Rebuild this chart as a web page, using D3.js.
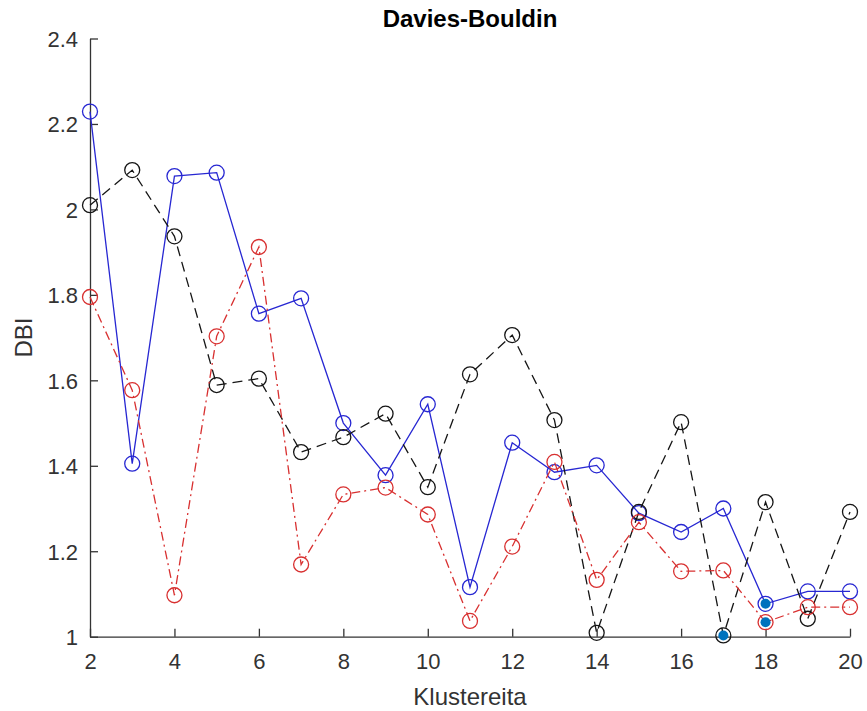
<!DOCTYPE html>
<html>
<head>
<meta charset="utf-8">
<script src="https://cdn.jsdelivr.net/npm/d3@7"></script>
<style>
    body { margin: 0; background: #fff; }
    svg { display: block; font-family: "Liberation Sans", Arial, Helvetica, sans-serif; }
</style>
</head>
<body>
<div id="chart"></div>
<script>
// number of clusters
var clusters = [2, 3, 4, 5, 6, 7, 8, 9, 10, 11, 12, 13, 14, 15, 16, 17, 18, 19, 20];

// DBI per clustering run
var dbiBlue = [2.229, 1.405, 2.078, 2.086, 1.756, 1.792, 1.500, 1.378, 1.544, 1.116,
    1.454, 1.385, 1.401, 1.289, 1.245, 1.300, 1.077, 1.106, 1.106];
var dbiBlack = [2.010, 2.092, 1.937, 1.589, 1.604, 1.432, 1.467, 1.522, 1.350, 1.614,
    1.706, 1.507, 1.009, 1.292, 1.502, 1.003, 1.315, 1.042, 1.292];
var dbiRed = [1.795, 1.577, 1.097, 1.703, 1.912, 1.169, 1.333, 1.349, 1.286, 1.037,
    1.211, 1.409, 1.133, 1.268, 1.153, 1.155, 1.034, 1.069, 1.069];

var xTicks = [2, 4, 6, 8, 10, 12, 14, 16, 18, 20];
var yTicks = [1, 1.2, 1.4, 1.6, 1.8, 2, 2.2, 2.4];

var series = [
    {name: 'blue', values: dbiBlue, color: '#2727d2', dash: null},
    {name: 'black', values: dbiBlack, color: '#151515', dash: '10,6'},
    {name: 'red', values: dbiRed, color: '#d83030', dash: '9,4,2,4'}
];

var width = 867, height = 711;
var margin = {top: 38.5, right: 17, bottom: 74.3, left: 90};
var axisColor = '#333333';

var svg = d3.select('#chart').append('svg')
    .attr('width', width)
    .attr('height', height);

var x = d3.scaleLinear()
    .domain([2, 20])
    .range([margin.left, width - margin.right]);

var y = d3.scaleLinear()
    .domain([1, 2.4])
    .range([height - margin.bottom, margin.top]);

// axes, ticks pointing inward like matlab
var xAxis = svg.append('g')
    .attr('transform', 'translate(0,' + (height - margin.bottom) + ')')
    .call(d3.axisBottom(x).tickValues(xTicks).tickSizeInner(-8).tickSizeOuter(0)
        .tickPadding(17).tickFormat(d3.format('d')));

var yAxis = svg.append('g')
    .attr('transform', 'translate(' + margin.left + ',0)')
    .call(d3.axisLeft(y).tickValues(yTicks).tickSizeInner(-8).tickSizeOuter(0)
        .tickPadding(12).tickFormat(function (d) { return d3.format('')(+d.toFixed(1)); }));

[xAxis, yAxis].forEach(function (g) {
    g.select('.domain').attr('stroke', axisColor).attr('stroke-width', 1.3);
    g.selectAll('.tick line').attr('stroke', axisColor).attr('stroke-width', 1.3);
    g.selectAll('.tick text')
        .attr('fill', axisColor)
        .style('font-size', '22px')
        .style('font-family', '"Liberation Sans", Arial, sans-serif');
});
yAxis.selectAll('.tick text').attr('dy', '0.36em');
xAxis.selectAll('.tick text').attr('dy', '0.71em');

var line = d3.line()
    .x(function (d) { return x(d.x); })
    .y(function (d) { return y(d.y); });

var groups = svg.selectAll('g.series')
    .data(series)
    .enter().append('g')
    .attr('class', 'series');

groups.each(function (s) {
    var g = d3.select(this);
    var pts = clusters.map(function (c, i) { return {x: c, y: s.values[i]}; });

    g.append('path')
        .datum(pts)
        .attr('d', line)
        .attr('fill', 'none')
        .attr('stroke', s.color)
        .attr('stroke-width', 1.3)
        .attr('stroke-dasharray', s.dash);

    g.selectAll('circle')
        .data(pts)
        .enter().append('circle')
        .attr('cx', function (d) { return x(d.x); })
        .attr('cy', function (d) { return y(d.y); })
        .attr('r', 7.5)
        .attr('fill', 'none')
        .attr('stroke', s.color)
        .attr('stroke-width', 1.3);
});

// minimum of each run marked with a filled dot
var minima = series.map(function (s) {
    var i = d3.minIndex(s.values);
    return {x: clusters[i], y: s.values[i]};
});

svg.append('g').selectAll('circle')
    .data(minima)
    .enter().append('circle')
    .attr('cx', function (d) { return x(d.x); })
    .attr('cy', function (d) { return y(d.y); })
    .attr('r', 5)
    .attr('fill', '#0072bd');

// labels
svg.append('text')
    .attr('x', (x(2) + x(20)) / 2)
    .attr('y', 27)
    .attr('text-anchor', 'middle')
    .style('font-size', '24px')
    .style('font-weight', 'bold')
    .attr('fill', '#000')
    .text('Davies-Bouldin');

svg.append('text')
    .attr('x', (x(2) + x(20)) / 2)
    .attr('y', 705)
    .attr('text-anchor', 'middle')
    .style('font-size', '24px')
    .attr('fill', axisColor)
    .text('Klustereita');

svg.append('text')
    .attr('transform', 'translate(32,' + (y(1) + y(2.4)) / 2 + ') rotate(-90)')
    .attr('text-anchor', 'middle')
    .style('font-size', '24px')
    .attr('fill', axisColor)
    .text('DBI');
</script>
</body>
</html>
